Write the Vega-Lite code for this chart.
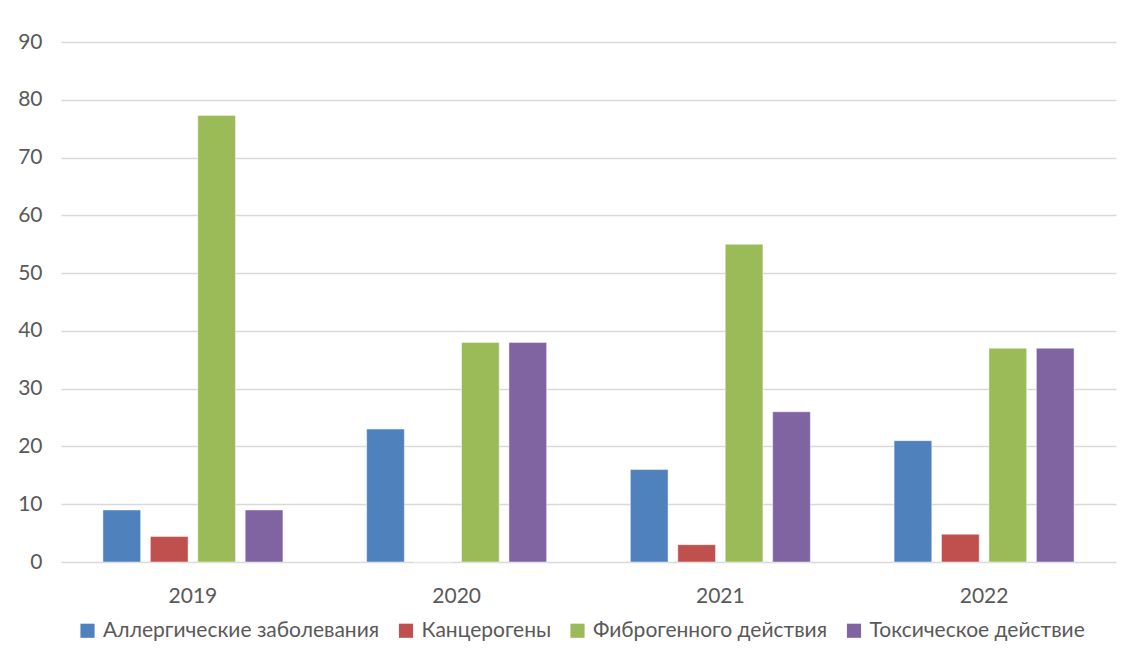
{
  "$schema": "https://vega.github.io/schema/vega-lite/v6.json",
  "width": 1055,
  "height": 520,
  "autosize": {"type": "none"},
  "padding": {"left": 61, "top": 42, "right": 13, "bottom": 97},
  "background": "white",
  "data": {
    "values": [
      {"year": "2019", "group": "Аллергические заболевания", "value": 9},
      {"year": "2019", "group": "Канцерогены", "value": 4.4},
      {"year": "2019", "group": "Фиброгенного действия", "value": 77.3},
      {"year": "2019", "group": "Токсическое действие", "value": 9},
      {"year": "2020", "group": "Аллергические заболевания", "value": 23},
      {"year": "2020", "group": "Канцерогены", "value": 0},
      {"year": "2020", "group": "Фиброгенного действия", "value": 38},
      {"year": "2020", "group": "Токсическое действие", "value": 38},
      {"year": "2021", "group": "Аллергические заболевания", "value": 16},
      {"year": "2021", "group": "Канцерогены", "value": 3},
      {"year": "2021", "group": "Фиброгенного действия", "value": 55},
      {"year": "2021", "group": "Токсическое действие", "value": 26},
      {"year": "2022", "group": "Аллергические заболевания", "value": 21},
      {"year": "2022", "group": "Канцерогены", "value": 4.8},
      {"year": "2022", "group": "Фиброгенного действия", "value": 37},
      {"year": "2022", "group": "Токсическое действие", "value": 37}
    ]
  },
  "mark": {"type": "bar", "stroke": "white", "strokeOpacity": 0.45, "strokeWidth": 1},
  "encoding": {
    "x": {
      "field": "year",
      "type": "nominal",
      "title": null,
      "scale": {"paddingInner": 0.3175, "paddingOuter": 0.159},
      "axis": {
        "labelAngle": 0,
        "labelFontSize": 21,
        "labelPadding": 23,
        "labelColor": "#595959",
        "labelFont": "Lato",
        "domain": false,
        "ticks": false
      }
    },
    "xOffset": {
      "field": "group",
      "type": "nominal",
      "sort": ["Аллергические заболевания", "Канцерогены", "Фиброгенного действия", "Токсическое действие"],
      "scale": {"paddingInner": 0.205, "paddingOuter": 0}
    },
    "y": {
      "field": "value",
      "type": "quantitative",
      "title": null,
      "scale": {"domain": [0, 90], "nice": false},
      "axis": {
        "values": [0, 10, 20, 30, 40, 50, 60, 70, 80, 90],
        "labelFontSize": 21,
        "labelColor": "#595959",
        "labelFont": "Lato",
        "labelPadding": 19,
        "domain": false,
        "ticks": false,
        "grid": true,
        "gridColor": "#D9D9D9",
        "gridWidth": 1.5
      }
    },
    "color": {
      "field": "group",
      "type": "nominal",
      "title": null,
      "scale": {
        "domain": ["Аллергические заболевания", "Канцерогены", "Фиброгенного действия", "Токсическое действие"],
        "range": ["#4F81BD", "#C0504D", "#9BBB59", "#8064A2"]
      },
      "legend": {
        "orient": "none",
        "legendX": 16,
        "legendY": 578,
        "direction": "horizontal",
        "columns": 4,
        "symbolType": "square",
        "symbolSize": 200,
        "symbolStrokeWidth": 0,
        "labelFontSize": 21,
        "labelOffset": 5,
        "labelFont": "Lato",
        "labelColor": "#595959",
        "labelLimit": 400,
        "columnPadding": 15.5
      }
    }
  },
  "config": {
    "view": {"stroke": null}
  }
}
